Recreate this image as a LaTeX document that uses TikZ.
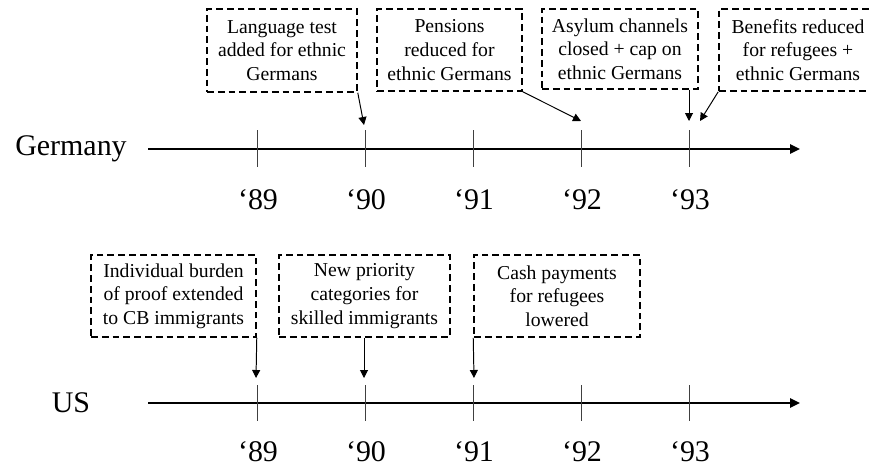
\documentclass[tikz,border=0pt]{standalone}
\usepackage{fontspec}
\setmainfont{Liberation Serif}
\usetikzlibrary{arrows.meta}

\tikzset{
    event/.style={draw, line width=1.1pt, dash pattern=on 1.7mm off 1mm, align=center,
        inner sep=0pt, font=\fontsize{14}{16.8}\selectfont},
    axis/.style={line width=1.4pt, -{Triangle[length=2.5mm, width=2.3mm]}},
    tick/.style={black!75, line width=0.7pt},
    pointer/.style={line width=0.7pt, -{Triangle[length=2mm, width=2mm]}},
    year/.style={font=\fontsize{21.3}{25}\selectfont},
    country/.style={font=\fontsize{21.3}{25}\selectfont}
}

\begin{document}
\begin{tikzpicture}[x=0.25mm, y=-0.25mm]
        \useasboundingbox (0,0) rectangle (870,468);

        % Draw time lines
        \coordinate (gstart) at (148,149);
        \coordinate (gend) at (800,149);
        \coordinate (ustart) at (148,403);
        \coordinate (uend) at (800,403);
        \node[country] (germany) at (71,149) {Germany};
        \node[country] (us) at (71,403) {US};
        \draw[axis] (gstart) -- (gend);
        \draw[axis] (ustart) -- (uend);

        % Draw ticks and years
        \foreach \x/\yr in {257/89, 365/90, 473/91, 581/92, 689/93} {
            \draw[tick] (\x,130) -- (\x,167);
            \node[year] (gyear\yr) at (\x+1,200) {‘\yr};
            \draw[tick] (\x,385) -- (\x,421);
            \node[year] (uyear\yr) at (\x+1,452) {‘\yr};
        }

        % Germany
        \node[event, minimum width=37.5mm, minimum height=20.75mm] (lang) at (282,50.5)
            {Language test\\added for ethnic\\Germans};
        \node[event, minimum width=36.25mm, minimum height=20.5mm] (pens) at (449.5,50)
            {Pensions\\reduced for\\ethnic Germans};
        \node[event, minimum width=39mm, minimum height=20mm] (asyl) at (620,49)
            {Asylum channels\\closed + cap on\\ethnic Germans};
        \node[event, minimum width=39.5mm, minimum height=20.5mm] (bene) at (798,50)
            {Benefits reduced\\for refugees +\\ethnic Germans};
        \coordinate (g90) at (364,125);
        \coordinate (g92) at (581,121);
        \coordinate (g93a) at (689,121);
        \coordinate (g93b) at (700,121);
        \draw[pointer] (lang.south east) -- (g90);
        \draw[pointer] (pens.south east) -- (g92);
        \draw[pointer] (asyl.south -| g93a) -- (g93a);
        \draw[pointer] (bene.south west) -- (g93b);

        % US
        \node[event, minimum width=41.25mm, minimum height=20.5mm] (proof) at (173.5,296)
            {Individual burden\\of proof extended\\to CB immigrants};
        \node[event, minimum width=42.75mm, minimum height=20.5mm] (skill) at (364.5,296)
            {New priority\\categories for\\skilled immigrants};
        \node[event, minimum width=41.5mm, minimum height=20.5mm] (cash) at (557,296)
            {Cash payments\\for refugees\\lowered};
        \coordinate (u89) at (256,378);
        \coordinate (u90) at (364,378);
        \coordinate (u91) at (474,378);
        \draw[pointer] (proof.south east) -- (u89);
        \draw[pointer] (skill.south -| u90) -- (u90);
        \draw[pointer] (cash.south west) -- (u91);

    \end{tikzpicture}
\end{document}
